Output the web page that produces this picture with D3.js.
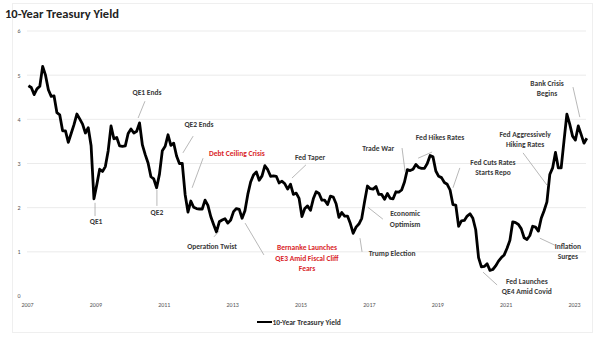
<!DOCTYPE html>
<html><head><meta charset="utf-8">
<script src="https://cdn.jsdelivr.net/npm/d3@7"></script>
<style>
html,body{margin:0;padding:0;background:#fff;}
svg{display:block;font-family:Carlito,Lato,"Liberation Sans",sans-serif;}
</style></head>
<body><svg id="c" width="600" height="337"></svg>
<script>
// ---- data ----
const startYear = 2007;
const yields2007 = [4.76,4.72,4.56,4.69,4.75,5.20,5.00,4.67,4.52,4.53,4.15,4.10];
const yields2008 = [3.74,3.74,3.48,3.68,3.88,4.12,4.01,3.89,3.69,3.81,3.40,2.20];
const yields2009 = [2.52,2.87,2.82,2.93,3.29,3.85,3.56,3.59,3.40,3.39,3.40,3.68];
const yields2010 = [3.78,3.69,3.73,3.92,3.42,3.20,3.01,2.70,2.65,2.45,2.76,3.29];
const yields2011 = [3.39,3.65,3.41,3.46,3.17,3.00,3.00,2.30,1.90,2.15,2.01,1.98];
const yields2012 = [1.97,1.97,2.17,2.05,1.80,1.62,1.45,1.68,1.72,1.75,1.65,1.72];
const yields2013 = [1.91,1.98,1.96,1.76,1.93,2.30,2.58,2.74,2.81,2.62,2.72,2.95];
const yields2014 = [2.86,2.71,2.72,2.71,2.56,2.60,2.54,2.42,2.53,2.30,2.33,2.21];
const yields2015 = [1.80,1.98,2.04,1.94,2.20,2.36,2.32,2.17,2.17,2.07,2.26,2.24];
const yields2016 = [2.09,1.78,1.89,1.81,1.81,1.64,1.42,1.56,1.63,1.76,2.14,2.49];
const yields2017 = [2.43,2.42,2.48,2.30,2.30,2.19,2.32,2.21,2.20,2.36,2.35,2.40];
const yields2018 = [2.58,2.86,2.84,2.87,2.98,2.91,2.89,2.89,3.00,3.18,3.15,2.83];
const yields2019 = [2.71,2.68,2.57,2.53,2.40,2.07,2.06,1.58,1.70,1.71,1.81,1.86];
const yields2020 = [1.76,1.50,0.87,0.66,0.67,0.73,0.58,0.60,0.68,0.79,0.87,0.93];
const yields2021 = [1.08,1.26,1.68,1.66,1.62,1.52,1.32,1.28,1.37,1.58,1.56,1.47];
const yields2022 = [1.76,1.93,2.13,2.75,2.90,3.25,2.90,2.90,3.52,4.12,3.89,3.62];
const yields2023 = [3.53,3.85,3.66,3.46,3.57];
const xTickYears = [2007,2009,2011,2013,2015,2017,2019,2021,2023];
const yTickValues = [0,1,2,3,4,5,6];
const seriesName = "10-Year Treasury Yield";
const chartTitle = "10-Year Treasury Yield";
// annotations: text lines, text anchor (year, value), leader from (year,value) to (year,value)
const annotations = [
  {lines:["QE1 Ends"], at:[2010.51,4.60], from:[2010.45,4.41], to:[2010.25,4.03], red:false},
  {lines:["QE1"], at:[2009.02,1.68], from:[2008.99,2.11], to:[2008.99,1.81], red:false},
  {lines:["QE2"], at:[2010.80,1.90], from:[2010.80,2.40], to:[2010.80,2.04], red:false},
  {lines:["QE2 Ends"], at:[2012.03,3.89], from:[2011.86,3.62], to:[2011.56,3.24], red:false},
  {lines:["Debt Ceiling Crisis"], at:[2013.14,3.24], from:[2012.15,3.12], to:[2011.83,2.45], red:true},
  {lines:["Fed Taper"], at:[2015.28,3.15], from:[2015.16,2.97], to:[2014.75,2.67], red:false},
  {lines:["Operation Twist"], at:[2012.41,1.13], from:[2012.62,1.47], to:[2012.47,1.34], red:false},
  {lines:["Bernanke Launches","QE3 Amid Fiscal Cliff","Fears"], at:[2015.19,1.09], from:[2013.38,1.65], to:[2013.93,0.93], red:true},
  {lines:["Trade War"], at:[2017.27,3.35], from:[2017.97,3.35], to:[2018.06,2.81], red:false},
  {lines:["Fed Hikes Rates"], at:[2019.08,3.60], from:[2018.85,3.26], to:[2018.44,3.12], red:false},
  {lines:["Economic","Optimism"], at:[2018.06,1.86], from:[2016.97,2.01], to:[2017.41,1.74], red:false},
  {lines:["Trump Election"], at:[2017.68,0.97], from:[2016.74,1.31], to:[2016.80,1.00], red:false},
  {lines:["Fed Cuts Rates","Starts Repo"], at:[2020.63,3.03], from:[2019.66,2.90], to:[2019.46,2.45], red:false},
  {lines:["Fed Launches","QE4 Amid Covid"], at:[2021.62,0.34], from:[2020.34,0.54], to:[2020.75,0.25], red:false},
  {lines:["Fed Aggressively","Hiking Rates"], at:[2021.57,3.67], from:[2021.51,3.24], to:[2022.21,2.51], red:false},
  {lines:["Inflation","Surges"], at:[2022.82,1.13], from:[2022.00,1.31], to:[2022.44,1.15], red:false},
  {lines:["Bank Crisis","Begins"], at:[2022.21,4.82], from:[2022.97,4.73], to:[2023.17,4.05], red:false}
];

// ---- build series ----
const allYears = [yields2007,yields2008,yields2009,yields2010,yields2011,yields2012,yields2013,yields2014,yields2015,yields2016,yields2017,yields2018,yields2019,yields2020,yields2021,yields2022,yields2023];
const series = [];
allYears.forEach((arr,yi)=>arr.forEach((v,m)=>series.push({t:startYear+yi+(m+0.5)/12, v})));

const svg = d3.select("#c");
const x = d3.scaleLinear().domain([2007,2023]).range([27,574]);
const y = d3.scaleLinear().domain([0,6]).range([296,31]);

// border
svg.append("rect").attr("x",12.5).attr("y",3.5).attr("width",580).attr("height",329)
  .attr("fill","none").attr("stroke","#efefef").attr("stroke-width",1);

// title
svg.append("text").attr("x",5).attr("y",18).attr("font-size",12.5).attr("font-weight","bold")
  .attr("fill","#222").text(chartTitle);

// gridlines
svg.append("g").selectAll("line").data(yTickValues.filter(d=>d>0)).join("line")
  .attr("x1",x(2007)).attr("x2",586).attr("y1",d=>y(d)).attr("y2",d=>y(d))
  .attr("stroke","#e6e6e6").attr("stroke-width",0.8);

// y axis labels
const yAxis = d3.axisLeft(y).tickValues(yTickValues).tickFormat(d3.format("d")).tickSize(0).tickPadding(0);
const gy = svg.append("g").attr("transform","translate(19,0)").call(yAxis);
gy.select(".domain").remove();
gy.selectAll("text").attr("font-size",6).attr("fill","#555").attr("text-anchor","middle")
  .attr("font-family","Carlito,Lato,sans-serif");

// x axis labels
const xAxis = d3.axisBottom(x).tickValues(xTickYears).tickFormat(d3.format("d")).tickSize(0).tickPadding(0);
const gx = svg.append("g").attr("transform","translate(0,303)").call(xAxis);
gx.select(".domain").remove();
gx.selectAll("text").attr("font-size",6).attr("fill","#555").attr("font-family","Carlito,Lato,sans-serif");

// line
const line = d3.line().x(d=>x(d.t)).y(d=>y(d.v)).curve(d3.curveLinear);
svg.append("path").datum(series).attr("d",line).attr("fill","none")
  .attr("stroke","#000").attr("stroke-width",2.8).attr("stroke-linejoin","round");

// annotations
const ag = svg.append("g");
annotations.forEach(a=>{
  ag.append("line").attr("x1",x(a.from[0])).attr("y1",y(a.from[1]))
    .attr("x2",x(a.to[0])).attr("y2",y(a.to[1])).attr("stroke","#a6a6a6").attr("stroke-width",0.8);
  a.lines.forEach((l,i)=>{
    ag.append("text").attr("x",x(a.at[0])).attr("y",y(a.at[1]) + i*10.5)
      .attr("dy","0.35em").attr("text-anchor","middle").attr("font-size",7.5).attr("font-weight","bold")
      .attr("fill",a.red?"#d9262a":"#3a3a3a").text(l);
  });
});

// legend
const lg = svg.append("g").attr("transform","translate(257,322)");
lg.append("line").attr("x1",0).attr("x2",15).attr("y1",0).attr("y2",0).attr("stroke","#000").attr("stroke-width",2);
lg.append("text").attr("x",15.5).attr("y",0).attr("dy","0.35em").attr("font-size",7.5).attr("font-weight","bold")
  .attr("fill","#333").text(seriesName);
</script></body></html>
